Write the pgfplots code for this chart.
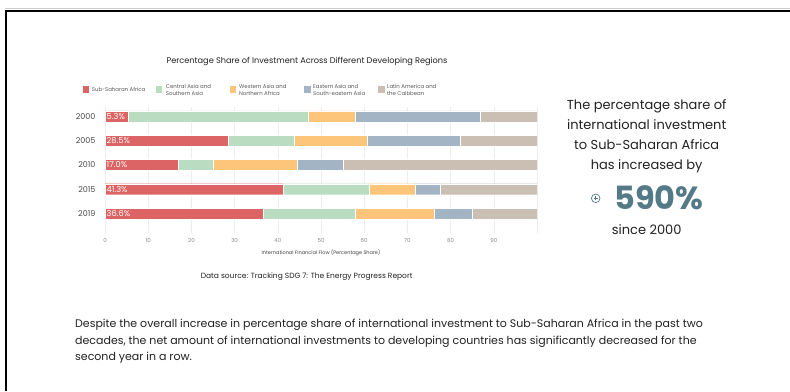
\documentclass[border=0pt]{standalone}
\usepackage{pgfplots}
\usepackage{pgfplotstable}
\pgfplotsset{compat=1.18}
\usepackage{fontspec}
\setmainfont{Poppins}
\definecolor{cRed}{HTML}{DC6464}
\definecolor{cGreen}{HTML}{BADCC0}
\definecolor{cOrange}{HTML}{FCC57A}
\definecolor{cBlue}{HTML}{A3B5C4}
\definecolor{cTan}{HTML}{CBBEB2}
\definecolor{cTeal}{HTML}{537A86}
\definecolor{cTxt}{HTML}{222222}
\pgfplotstableread{
y ssa cas wana esea lac zero
0 5.3 41.8 10.9 28.8 13.2 0
1 28.5 15.4 16.7 21.7 17.7 0
2 17.0 8.0 19.6 10.5 44.9 0
3 41.3 19.8 10.7 5.7 22.5 0
4 36.6 21.3 18.4 8.8 14.9 0
}\datatable
\begin{document}
\begin{tikzpicture}[x=1pt,y=1pt]
\path[use as bounding box] (0,0) rectangle (790,391);
\fill[white] (0,0) rectangle (790,391);
\draw[gray!40, line width=0.6pt] (5,382.2) -- (790,382.2);
\draw[black, line width=2pt] (6,380) -- (790,380);
\draw[black, line width=2pt] (6,381) -- (6,0);

% title
\node[font=\fontsize{8.2}{9}\selectfont, text=cTxt] at (307,329.3) {Percentage Share of Investment Across Different Developing Regions};

% legend
\foreach \sx/\tx/\col/\lab in {82.7/91.7/cRed/{Sub-Saharan Africa},
  156/165.7/cGreen/{Central Asia and\\Southern Asia},
  230/239/cOrange/{Western Asia and\\Northern Africa},
  304.3/313/cBlue/{Eastern Asia and\\South-eastern Asia},
  378.3/387/cTan/{Latin America and\\the Caibbean}}{
  \fill[\col] (\sx,298.2) rectangle ++(6.4,6.6);
  \node[anchor=west, inner sep=0pt, align=left, font=\fontsize{5.4}{7}\selectfont, text=black!65] at (\tx,301.5) {\lab};
}

\begin{axis}[
  at={(105pt,158pt)}, anchor=south west,
  scale only axis, width=432pt, height=126.4pt,
  xbar stacked, bar width=11pt,
  xmin=0, xmax=100, ymin=-0.4, ymax=4.8, y dir=reverse,
  ytick={0,1,2,3,4}, yticklabels={2000,2005,2010,2015,2019},
  xtick={0,10,20,30,40,50,60,70,80,90,100},
  xticklabels={0,10,20,30,40,50,60,70,80,90,},
  axis line style={draw=none}, major tick length=0pt,
  xmajorgrids, grid style={color=black!7, line width=0.5pt},
  /pgf/number format/assume math mode=true,
  yticklabel style={font=\fontsize{8}{9}\selectfont, text=black!70, xshift=-6pt},
  xticklabel style={font=\fontsize{5.5}{6}\selectfont, text=black!45, yshift=-1.5pt},
  xlabel={International Financial Flow (Percentage Share)},
  xlabel style={at={(axis description cs:0.5,0)}, anchor=center, yshift=-20pt, font=\fontsize{5}{6}\selectfont, text=black!75},
]
\addplot[fill=cRed, draw=white, line width=0.4pt] table[x=ssa, y=y] {\datatable};
\addplot[fill=cGreen, draw=white, line width=0.4pt] table[x=cas, y=y] {\datatable};
\addplot[fill=cOrange, draw=white, line width=0.4pt] table[x=wana, y=y] {\datatable};
\addplot[fill=cBlue, draw=white, line width=0.4pt] table[x=esea, y=y] {\datatable};
\addplot[fill=cTan, draw=white, line width=0.4pt] table[x=lac, y=y] {\datatable};
\addplot[stack plots=false, draw=none, fill=none, point meta=explicit,
  nodes near coords={\pgfmathprintnumber[fixed,fixed zerofill,precision=1]{\pgfplotspointmeta}\%},
  nodes near coords style={anchor=west, inner sep=0pt, xshift=1.5pt, text=white, font=\fontsize{8.3}{9}\selectfont, /pgf/number format/assume math mode=true}]
  table[x=zero, y=y, meta=ssa] {\datatable};
\end{axis}

% data source
\node[font=\fontsize{7.5}{9}\selectfont, text=cTxt] at (306.7,114.3) {Data source: Tracking SDG 7: The Energy Progress Report};

% right text
\node[align=center, font=\fontsize{13}{20}\selectfont, text=cTxt] at (646.7,254.3) {The percentage share of\\international investment\\to Sub-Saharan Africa\\has increased by};
\node[anchor=base, font=\fontsize{32}{36}\selectfont\bfseries, text=cTeal] at (659,181.7) {590\%};
\draw[cTeal, line width=0.7pt] (595.7,192.7) circle (4.3);
\draw[cTeal, line width=0.7pt] (593.5,192.7) -- (597.9,192.7) (595.7,190.5) -- (595.7,194.9);
\node[font=\fontsize{13}{16}\selectfont, text=cTxt] at (646.7,161) {since 2000};

% paragraph
\node[anchor=north west, align=left, inner sep=0pt, font=\fontsize{11}{16.5}\selectfont, text=cTxt] at (75,72) {Despite the overall increase in percentage share of international investment to Sub-Saharan Africa in the past two\\decades, the net amount of international investments to developing countries has significantly decreased for the\\second year in a row.};
\end{tikzpicture}
\end{document}
